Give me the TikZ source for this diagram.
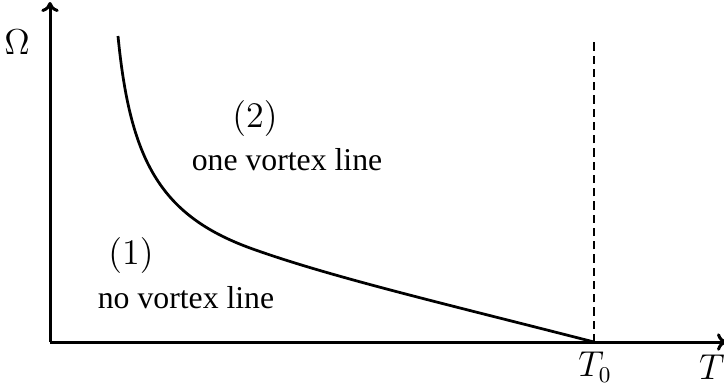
\documentclass[tikz,border=0pt,12pt]{standalone}
\usepackage{fontspec}
\newfontfamily\tms{Liberation Serif}
\usetikzlibrary{arrows.meta}
\begin{document}
\begin{tikzpicture}[x=0.4pt,y=-0.4pt,
  axis/.style={line width=1.2pt,-{To[length=4pt,width=7pt]}},
  lbl/.style={inner sep=0pt,font=\fontsize{13.5}{16}\selectfont},
  txt/.style={inner sep=0pt,font=\fontsize{12.7}{15}\selectfont\tms},
  curvestyle/.style={line width=1.1pt},
  dashline/.style={line width=1.1pt,dash pattern=on 3.3pt off 2pt}]
\useasboundingbox (0,0) rectangle (724,387);
\coordinate (O) at (50,342);
\coordinate (ytop) at (50,2);
\coordinate (xend) at (727,342);
\coordinate (T0) at (594,342);
\coordinate (T0top) at (594,38);
\coordinate (cstart) at (118,36);
\coordinate (cmid) at (250,248);
\draw[axis] (O) -- (ytop);
\draw[axis] (O) -- (xend);
\draw[dashline] (T0) -- (T0top);
\draw[curvestyle] (cstart) .. controls (130,160) and (160,215) .. (cmid)
  .. controls (330,277) and (450,305) .. (T0);
\node[lbl] (om) at (17,42) {$\Omega$};
\node[lbl] (t0) at (595,367) {$T_0$};
\node[lbl] (t) at (712,367) {$T$};
\node[lbl] (r2) at (255,118) {$(2)$};
\node[txt] (r2t) at (287,160) {one vortex line};
\node[lbl] (r1) at (131,255) {$(1)$};
\node[txt] (r1t) at (186,298) {no vortex line};
\end{tikzpicture}
\end{document}
